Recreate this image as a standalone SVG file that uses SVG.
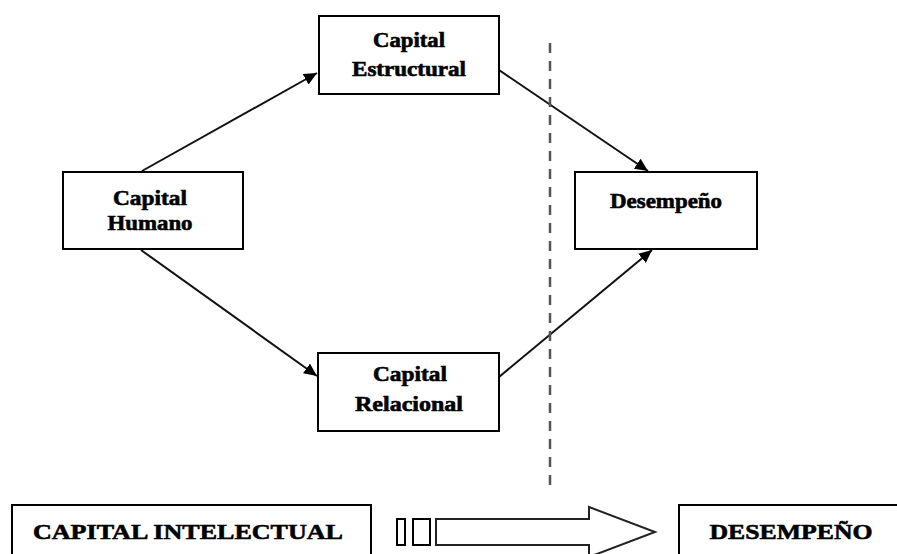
<svg xmlns="http://www.w3.org/2000/svg" width="897" height="554" viewBox="0 0 897 554">
<style>
.box{fill:#fff;stroke:#000;stroke-width:2}
.t{font-family:"Liberation Serif","Times New Roman",serif;font-weight:bold;font-size:21px;fill:#000;stroke:#000;stroke-width:0.6;text-anchor:middle}
.tb{font-family:"Liberation Serif","Times New Roman",serif;font-weight:bold;font-size:22px;fill:#000;stroke:#000;stroke-width:0.6;text-anchor:middle}
.c{stroke:#111;stroke-width:2;fill:none;marker-end:url(#ah)}
</style>
<defs>
<marker id="ah" markerUnits="userSpaceOnUse" markerWidth="14" markerHeight="12" refX="13" refY="6" orient="auto">
<path d="M0,0 L13,6 L0,12 Z" fill="#000"/>
</marker>
</defs>
<rect width="897" height="554" fill="#fff"/>
<g id="connectors">
<line class="c" x1="142" y1="171" x2="317" y2="73"/>
<line class="c" x1="141" y1="250" x2="317" y2="376"/>
<line class="c" x1="499" y1="70" x2="648" y2="171"/>
<line class="c" x1="499" y1="377" x2="652" y2="250"/>
<line x1="550" y1="43" x2="550" y2="486" stroke="#555" stroke-width="2.5" stroke-dasharray="10 8"/>
</g>
<g id="estructural">
<rect class="box" x="319" y="16" width="180" height="78"/>
<text class="t" x="409" y="47" textLength="72" lengthAdjust="spacingAndGlyphs">Capital</text>
<text class="t" x="409" y="76" textLength="114" lengthAdjust="spacingAndGlyphs">Estructural</text>
</g>
<g id="humano">
<rect class="box" x="63" y="172" width="180" height="77"/>
<text class="t" x="150" y="205" textLength="74" lengthAdjust="spacingAndGlyphs">Capital</text>
<text class="t" x="150" y="230" textLength="85" lengthAdjust="spacingAndGlyphs">Humano</text>
</g>
<g id="desempeno">
<rect class="box" x="575" y="172" width="182" height="77"/>
<text class="t" x="666" y="208" textLength="112" lengthAdjust="spacingAndGlyphs">Desempeño</text>
</g>
<g id="relacional">
<rect class="box" x="318" y="353" width="181" height="78"/>
<text class="t" x="410" y="381" textLength="74" lengthAdjust="spacingAndGlyphs">Capital</text>
<text class="t" x="409" y="411" textLength="108" lengthAdjust="spacingAndGlyphs">Relacional</text>
</g>
<g id="capital-intelectual">
<rect class="box" x="12" y="505" width="359" height="60"/>
<text class="tb" x="188" y="539" textLength="310" lengthAdjust="spacingAndGlyphs">CAPITAL INTELECTUAL</text>
</g>
<g id="big-arrow">
<rect x="397" y="519" width="8" height="26" fill="#fff" stroke="#000" stroke-width="2"/>
<rect x="413" y="519" width="17" height="26" fill="#fff" stroke="#000" stroke-width="2"/>
<path d="M436,519 L589,519 L589,507 L655,532 L589,557 L589,545 L436,545 Z" fill="#fff" stroke="#222" stroke-width="2"/>
</g>
<g id="desempeno-bottom">
<rect class="box" x="679" y="505" width="240" height="60"/>
<text class="tb" x="791" y="539" textLength="163" lengthAdjust="spacingAndGlyphs">DESEMPEÑO</text>
</g>
</svg>
